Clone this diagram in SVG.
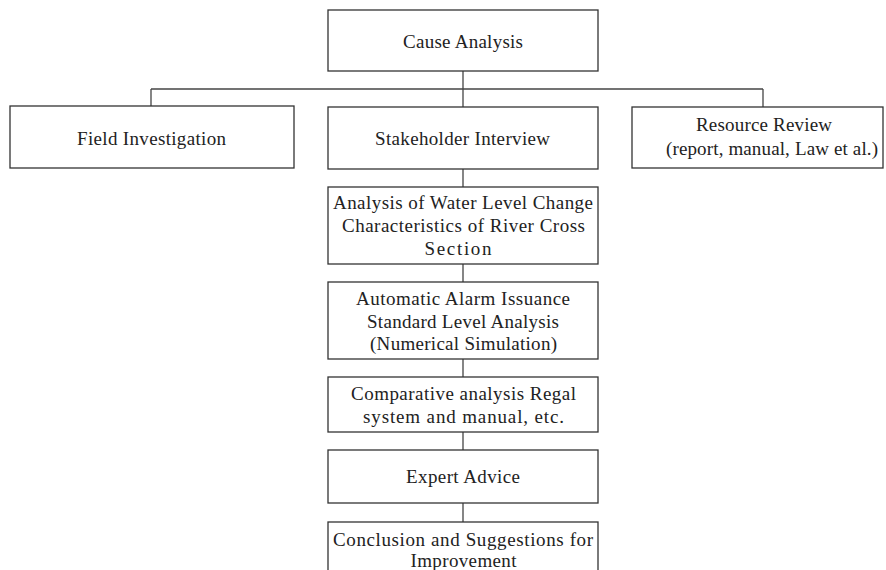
<svg xmlns="http://www.w3.org/2000/svg" width="886" height="570" viewBox="0 0 886 570">
<style>
.box{fill:#fff;stroke:#333;stroke-width:1.3}
.ln{stroke:#444;stroke-width:1.3;fill:none}
text{font-family:"Liberation Serif","DejaVu Serif",serif;font-size:19px;fill:#222;text-anchor:middle}
</style>
<rect width="886" height="570" fill="#fff"/>
<g id="connectors">
<path class="ln" d="M463 71V107"/>
<path class="ln" d="M151 89H763"/>
<path class="ln" d="M151 89V106"/>
<path class="ln" d="M763 89V107"/>
<path class="ln" d="M463 169V187"/>
<path class="ln" d="M463 264V282"/>
<path class="ln" d="M463 359V377"/>
<path class="ln" d="M463 432V450"/>
<path class="ln" d="M463 503V522"/>
</g>
<g id="cause">
<rect class="box" x="328" y="10" width="270" height="61"/>
<text x="463" y="48" textLength="120" lengthAdjust="spacing">Cause Analysis</text>
</g>
<g id="field">
<rect class="box" x="10" y="106" width="284" height="62"/>
<text x="151.5" y="145" textLength="149" lengthAdjust="spacing">Field Investigation</text>
</g>
<g id="stakeholder">
<rect class="box" x="328" y="107" width="270" height="62"/>
<text x="462.5" y="145" textLength="175" lengthAdjust="spacing">Stakeholder Interview</text>
</g>
<g id="resource">
<rect class="box" x="632" y="107" width="251" height="61"/>
<text x="764" y="131" textLength="136" lengthAdjust="spacing">Resource Review</text>
<text x="772" y="155" textLength="212" lengthAdjust="spacing">(report, manual, Law et al.)</text>
</g>
<g id="water">
<rect class="box" x="328" y="187" width="270" height="77"/>
<text x="463" y="209" textLength="260" lengthAdjust="spacing">Analysis of Water Level Change</text>
<text x="463.5" y="232" textLength="243" lengthAdjust="spacing">Characteristics of River Cross</text>
<text x="458" y="255" textLength="67" lengthAdjust="spacing">Section</text>
</g>
<g id="alarm">
<rect class="box" x="328" y="282" width="270" height="77"/>
<text x="463" y="305" textLength="214" lengthAdjust="spacing">Automatic Alarm Issuance</text>
<text x="463" y="328" textLength="192" lengthAdjust="spacing">Standard Level Analysis</text>
<text x="463.5" y="350" textLength="187" lengthAdjust="spacing">(Numerical Simulation)</text>
</g>
<g id="comparative">
<rect class="box" x="328" y="377" width="270" height="55"/>
<text x="463.5" y="400" textLength="225" lengthAdjust="spacing">Comparative analysis Regal</text>
<text x="463.5" y="423" textLength="201" lengthAdjust="spacing">system and manual, etc.</text>
</g>
<g id="expert">
<rect class="box" x="328" y="450" width="270" height="53"/>
<text x="463" y="483" textLength="114" lengthAdjust="spacing">Expert Advice</text>
</g>
<g id="conclusion">
<rect class="box" x="328" y="522" width="270" height="60"/>
<text x="463" y="546" textLength="260" lengthAdjust="spacing">Conclusion and Suggestions for</text>
<text x="463.5" y="567" textLength="106" lengthAdjust="spacing">Improvement</text>
</g>
</svg>
